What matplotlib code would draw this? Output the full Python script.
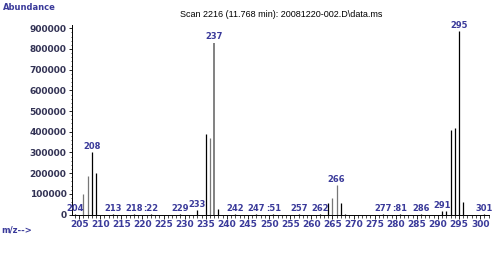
import matplotlib.pyplot as plt
from matplotlib.ticker import MultipleLocator

# m/z values and abundances
mz = [204, 206, 207, 208, 209, 213, 218, 222, 229, 233, 235, 236, 237, 238,
      242, 247, 251, 257, 262, 264, 265, 266, 267, 268, 277, 281, 286,
      291, 292, 293, 294, 295, 296, 301]
abundance = [3000, 100000, 187000, 303000, 201000, 2000, 2000, 2000, 2000, 22000,
             390000, 370000, 830000, 25000,
             2000, 2000, 2000, 2000, 2000, 57000, 81000, 143000, 57000, 5000,
             2000, 2000, 2000,
             18000, 15000, 409000, 419000, 887000, 61000, 2000]
# peaks that carry a label
labelled = [204, 208, 213, 218, 222, 229, 233, 237, 242, 247, 251, 257, 262,
            266, 277, 281, 286, 291, 295, 301]
grey_peaks = [206, 207, 236, 237, 265, 266]

blue = '#3a3a9a'

fig = plt.figure(figsize=(5, 2.57), dpi=100)
ax = fig.add_axes([0.144, 0.165, 0.834, 0.738])

for m, a in zip(mz, abundance):
    col = '#777777' if m in grey_peaks else 'black'
    lw = 1.3 if m in (237,) else 0.9
    ax.vlines(m, 0, a, color=col, lw=lw)

for m, a in zip(mz, abundance):
    if m in labelled:
        lab = str(m)
        if m == 222:
            lab = ':22'
        if m == 251:
            lab = ':51'
        if m == 281:
            lab = ':81'
        ax.text(m, a + 6000, lab, ha='center', va='bottom', fontsize=6,
                color=blue, fontweight='bold')

ax.set_xlim(203.3, 302.1)
ax.set_ylim(0, 916000)
ax.xaxis.set_minor_locator(MultipleLocator(1))
ax.yaxis.set_major_locator(MultipleLocator(100000))
ax.yaxis.set_minor_locator(MultipleLocator(20000))
ax.set_xticks(range(205, 301, 5))
ax.tick_params(axis='x', which='major', length=3, width=0.6, labelsize=6.5,
               labelcolor=blue, pad=1)
ax.tick_params(axis='x', which='minor', length=2, width=0.5)
ax.tick_params(axis='y', which='major', length=2, width=0.6, labelsize=6.5,
               labelcolor='#333355', pad=2)
ax.tick_params(axis='y', which='minor', length=1, width=0.5)
for lbl in ax.get_xticklabels() + ax.get_yticklabels():
    lbl.set_fontweight('bold')

for s in ['top', 'right']:
    ax.spines[s].set_visible(False)
ax.spines['left'].set_linewidth(0.7)
ax.spines['bottom'].set_linewidth(0.7)

fig.text(0.005, 0.99, 'Abundance', ha='left', va='top', fontsize=6,
         color=blue, fontweight='bold')
fig.text(0.563, 0.925, r'Scan 2216 (11.768 min): 20081220-002.D\data.ms',
         ha='center', va='bottom', fontsize=6.5, family='Liberation Sans')
fig.text(0.002, 0.105, 'm/z-->', ha='left', va='center', fontsize=6,
         color=blue, fontweight='bold')

fig.savefig('out.png', dpi=100, facecolor='white')
